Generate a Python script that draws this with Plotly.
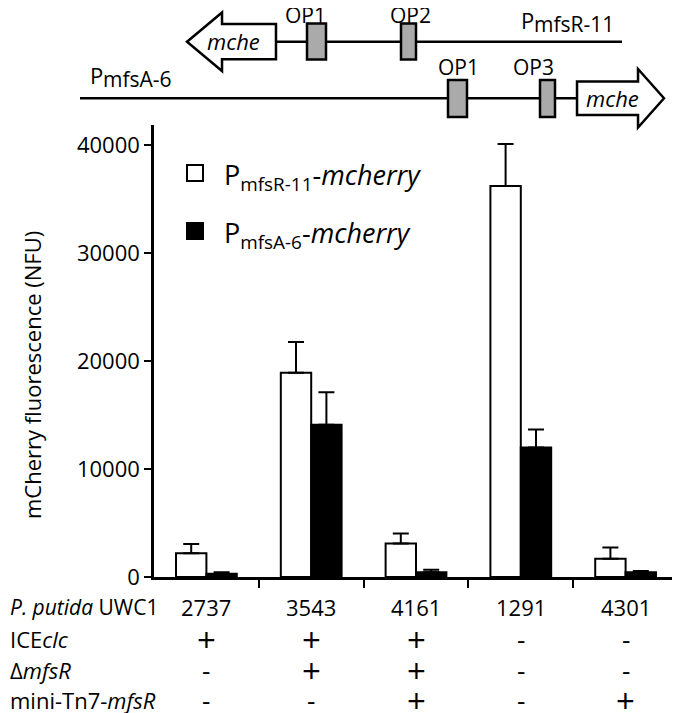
import plotly.graph_objects as go

# data
strains = ["2737", "3543", "4161", "1291", "4301"]
ice_clc = ["+", "+", "+", "-", "-"]
delta_mfsr = ["-", "+", "+", "-", "-"]
mini_tn7 = ["-", "-", "+", "-", "+"]

pmfsr = [2200, 18900, 3100, 36200, 1700]
pmfsr_err = [850, 2850, 930, 3900, 1020]
pmfsa = [300, 14100, 430, 12000, 450]
pmfsa_err = [150, 3000, 230, 1650, 100]

row_labels = ["<i>P. putida</i> UWC1", "ICE<i>clc</i>", "Δ<i>mfsR</i>", "mini-Tn7-<i>mfsR</i>"]
y_ticks = [0, 10000, 20000, 30000, 40000]

FONT = "Open Sans"
OFF = 8  # page body margin
W, H = 680 - OFF, 713 - OFF
X0, X1, Y0, Y1 = 154, 678, 125, 577  # plot area in screen pixels
PW, PH = X1 - X0, Y1 - Y0


def px(x):
    return (x - X0) / PW


def py(y):
    return (Y1 - y) / PH


def note(text, x, y, size=22, xanchor="center", yanchor="middle", xref="paper", **kw):
    return dict(text=text, x=x if xref == "x" else px(x), y=py(y), xref=xref, yref="paper",
                xanchor=xanchor, yanchor=yanchor, showarrow=False, font=dict(size=size), **kw)


xs = list(range(len(strains)))

fig = go.Figure()
fig.add_bar(x=xs, y=pmfsr, name="PmfsR-11", marker=dict(color="white", line=dict(color="black", width=2)),
            error_y=dict(type="data", array=pmfsr_err, arrayminus=[0] * 5, symmetric=False,
                         color="black", thickness=2, width=8))
fig.add_bar(x=xs, y=pmfsa, name="PmfsA-6", marker=dict(color="black", line=dict(color="black", width=2)),
            error_y=dict(type="data", array=pmfsa_err, arrayminus=[0] * 5, symmetric=False,
                         color="black", thickness=2, width=8))

fig.update_layout(
    width=W, height=H,
    margin=dict(l=X0 - OFF, r=680 - X1, t=Y0 - OFF, b=713 - Y1, autoexpand=False),
    paper_bgcolor="white", plot_bgcolor="white",
    barmode="group", bargap=0.42, bargroupgap=0,
    showlegend=False,
    font=dict(family=FONT, size=22, color="black"),
)
fig.update_xaxes(range=[-0.5, 4.5], tickvals=[0.5, 1.5, 2.5, 3.5, 4.5], ticktext=[""] * 5,
                 ticks="outside", ticklen=8, tickwidth=2, tickcolor="black", automargin=False,
                 showline=True, linecolor="black", linewidth=2.5, showgrid=False, zeroline=False)
fig.update_yaxes(range=[0, 41850], tickvals=y_ticks, tickformat="d", automargin=False,
                 ticks="outside", ticklen=7, tickwidth=2, tickcolor="black", ticklabelstandoff=0,
                 showline=True, linecolor="black", linewidth=2.5, showgrid=False, zeroline=False,
                 tickfont=dict(size=22))

ann = [note("mCherry fluorescence (NFU)", 32, 375, size=22, textangle=-90)]

# legend
shapes = []
for yy, fill, lab in [(173, "white", "P<sub>mfsR-11</sub>-<i>mcherry</i>"),
                      (231, "black", "P<sub>mfsA-6</sub>-<i>mcherry</i>")]:
    shapes.append(dict(type="rect", xref="paper", yref="paper", x0=px(187), x1=px(203),
                       y0=py(yy - 8), y1=py(yy + 8), fillcolor=fill, line=dict(color="black", width=2)))
    ann.append(note(lab, 222, yy + 3, size=27, xanchor="left"))

# table below the axis
rows = [strains, ice_clc, delta_mfsr, mini_tn7]
row_y = [607, 639, 670, 700]
for k, (lab, vals, yy) in enumerate(zip(row_labels, rows, row_y)):
    ann.append(note(lab, OFF, yy, size=21 if k == 0 else 22, xanchor="left"))
    for i, v in enumerate(vals):
        size = {"+": 33, "-": 26}.get(v, 22)
        ann.append(note(v, xs[i], yy, size=size, xref="x"))

# promoter diagram on top
line_kw = dict(color="black", width=2.5)
shapes.append(dict(type="line", xref="paper", yref="paper", x0=px(276), x1=px(622),
                   y0=py(41.7), y1=py(41.7), line=line_kw))
shapes.append(dict(type="line", xref="paper", yref="paper", x0=px(80), x1=px(577),
                   y0=py(98.3), y1=py(98.3), line=line_kw))


def arrow_path(pts):
    return "M " + " L ".join(f"{px(a):.4f},{py(b):.4f}" for a, b in pts) + " Z"


left_arrow = [(187, 41.7), (222, 12.5), (222, 24), (276, 24), (276, 59.3), (222, 59.3), (222, 71)]
right_arrow = [(664, 98.3), (638, 69), (638, 81.5), (577, 81.5), (577, 115), (638, 115), (638, 127.5)]
for pts in (left_arrow, right_arrow):
    shapes.append(dict(type="path", xref="paper", yref="paper", path=arrow_path(pts),
                       fillcolor="white", line=line_kw))

boxes = [(307, 326, 23.5, 59.5), (401, 416, 23.5, 59.5), (448, 467, 80, 117), (540, 555, 80, 117)]
for bx0, bx1, by0, by1 in boxes:
    shapes.append(dict(type="rect", xref="paper", yref="paper", x0=px(bx0), x1=px(bx1),
                       y0=py(by1), y1=py(by0), fillcolor="#aaaaaa", line=dict(color="black", width=2.5)))

for t, xx, yy in [("OP1", 305, 15), ("OP2", 410, 15), ("OP1", 458, 67), ("OP3", 533, 67)]:
    ann.append(note(t, xx, yy, size=21))

ann.append(note("<i>mche</i>", 233, 41))
ann.append(note("<i>mche</i>", 612, 98))

# promoter names (P with lowered suffix)
for xx, yy, suffix in [(519, 20, "mfsR-11"), (88, 75, "mfsA-6")]:
    ann.append(note("P", xx, yy, xanchor="left"))
    ann.append(note(suffix, xx + 13, yy + 4, size=21, xanchor="left"))

fig.update_layout(annotations=ann, shapes=shapes)
fig.write_html("out.html")
